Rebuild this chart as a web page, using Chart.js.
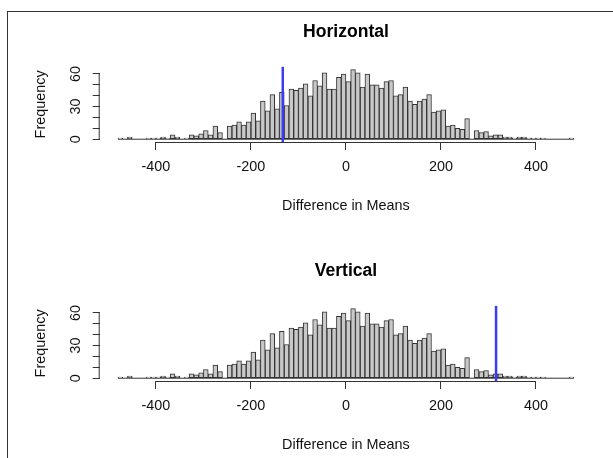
<!DOCTYPE html>
<html>
<head>
<meta charset="utf-8">
<script src="https://cdn.jsdelivr.net/npm/chart.js@4.4.1/dist/chart.umd.min.js"></script>
<style>
  html, body { margin:0; padding:0; background:#fff; width:613px; height:458px; overflow:hidden; }
  #frame { position:absolute; left:7px; top:11px; width:700px; height:600px; border:1px solid #333; box-sizing:border-box; }
  canvas { position:absolute; left:0; }
</style>
</head>
<body>
<div id="frame"></div>
<canvas id="c0" width="613" height="239" style="top:0"></canvas>
<canvas id="c1" width="613" height="239" style="top:239px"></canvas>
<script>
// 1. DATOS
const panelTitles = ['Horizontal', 'Vertical'];
const observedDiffs = [-133, 316];   // posición de la línea azul
const binStart = -480;
const binWidth = 10;
const counts = [
  1, 0, 2, 0, 0, 0, 1, 1, 1, 2,
  1, 4, 2, 0, 1, 4, 3, 5, 8, 4,
  12, 6, 0, 12, 13, 16, 13, 16, 24, 17,
  35, 26, 41, 28, 43, 31, 46, 45, 47, 51,
  40, 54, 49, 61, 46, 46, 57, 60, 53, 64,
  61, 48, 60, 50, 50, 47, 53, 54, 40, 41,
  48, 35, 32, 35, 37, 41, 25, 26, 27, 12,
  13, 10, 9, 19, 0, 8, 6, 7, 3, 4,
  4, 2, 2, 1, 2, 2, 1, 1, 1, 1,
  0, 0, 0, 0, 0, 1
];
const xTickVals = [-400, -200, 0, 200, 400];
const yTickVals = [0, 10, 20, 30, 40, 50, 60];
const yLabelVals = [0, 30, 60];

// 2. ESTILO R (límites = rango de breaks + 4%)
const FONT = '"Liberation Sans", Arial, Helvetica, sans-serif';
const binEnd = binStart + binWidth * counts.length;
const maxCount = Math.max(...counts);
const xLimits = [binStart - 0.04 * (binEnd - binStart), binEnd + 0.04 * (binEnd - binStart)];
const yLimits = [-0.04 * maxCount, maxCount * 1.04];

const rStyle = {
  id: 'rStyle',
  afterDatasetsDraw(chart, args, opts) {
    const { ctx, chartArea: a, scales: { x, y } } = chart;
    ctx.save();
    // ejes tipo R: solo entre primer y último tick
    ctx.strokeStyle = '#333'; ctx.lineWidth = 1;
    ctx.beginPath();
    ctx.moveTo(x.getPixelForValue(xTickVals[0]), a.bottom + 0.5);
    ctx.lineTo(x.getPixelForValue(xTickVals[xTickVals.length - 1]), a.bottom + 0.5);
    ctx.moveTo(a.left - 0.5, y.getPixelForValue(yTickVals[0]));
    ctx.lineTo(a.left - 0.5, y.getPixelForValue(yTickVals[yTickVals.length - 1]));
    ctx.stroke();
    // línea azul (abline)
    const px = x.getPixelForValue(opts.vline);
    ctx.strokeStyle = '#3c3cf0'; ctx.lineWidth = 2.5;
    ctx.beginPath(); ctx.moveTo(px, a.top); ctx.lineTo(px, a.bottom); ctx.stroke();
    // etiquetas y giradas
    ctx.fillStyle = '#111'; ctx.font = '14.4px ' + FONT;
    ctx.textAlign = 'center'; ctx.textBaseline = 'middle';
    yLabelVals.forEach(v => {
      ctx.save();
      ctx.translate(76, y.getPixelForValue(v));
      ctx.rotate(-Math.PI / 2);
      ctx.fillText(String(v), 0, 0);
      ctx.restore();
    });
    ctx.restore();
  }
};

// 3. GRÁFICOS
function makeHist(id, i) {
  return new Chart(document.getElementById(id), {
    type: 'bar',
    data: {
      datasets: [
        {
          data: counts.map((c, k) => ({ x: binStart + binWidth * (k + 0.5), y: c })),
          backgroundColor: '#c8c8c8', borderColor: '#333', borderWidth: 1, borderSkipped: false,
          barPercentage: 1, categoryPercentage: 1
        },
        {
          type: 'line',
          data: [{ x: binStart, y: 0 }, { x: binEnd, y: 0 }],
          borderColor: '#333', borderWidth: 1, pointRadius: 0
        }
      ]
    },
    options: {
      responsive: false, animation: false, devicePixelRatio: 1,
      layout: { padding: { left: 0, top: 0, bottom: 0, right: 20.8 } },
      plugins: {
        legend: { display: false }, tooltip: { enabled: false },
        title: {
          display: true, text: panelTitles[i], fullSize: false, color: '#000',
          font: { family: FONT, size: 17.6, weight: 'bold', lineHeight: 1.2 },
          padding: { top: 21.9, bottom: 23.8 }
        },
        rStyle: { vline: observedDiffs[i] }
      },
      scales: {
        x: {
          type: 'linear', min: xLimits[0], max: xLimits[1], offset: false,
          afterBuildTicks: s => { s.ticks = xTickVals.map(v => ({ value: v })); },
          afterFit: s => { s.height = 97; },
          grid: { drawOnChartArea: false, drawTicks: true, tickLength: 8, color: '#333', offset: false },
          border: { display: false },
          ticks: { color: '#111', font: { family: FONT, size: 14.4 }, padding: 8.4, maxRotation: 0, autoSkip: false },
          title: { display: true, text: 'Difference in Means', color: '#111', font: { family: FONT, size: 14.4 }, padding: { top: 0, bottom: 24.4 } }
        },
        y: {
          min: yLimits[0], max: yLimits[1],
          afterBuildTicks: s => { s.ticks = yTickVals.map(v => ({ value: v })); },
          afterFit: s => { s.width = 99.7; },
          grid: { drawOnChartArea: false, drawTicks: true, tickLength: 7, color: '#333' },
          border: { display: false },
          ticks: { display: false },
          title: { display: true, text: 'Frequency', color: '#111', font: { family: FONT, size: 14.4 }, padding: { top: 32.4, bottom: 0 } }
        }
      }
    },
    plugins: [rStyle]
  });
}

makeHist('c0', 0);
makeHist('c1', 1);
</script>
</body>
</html>
